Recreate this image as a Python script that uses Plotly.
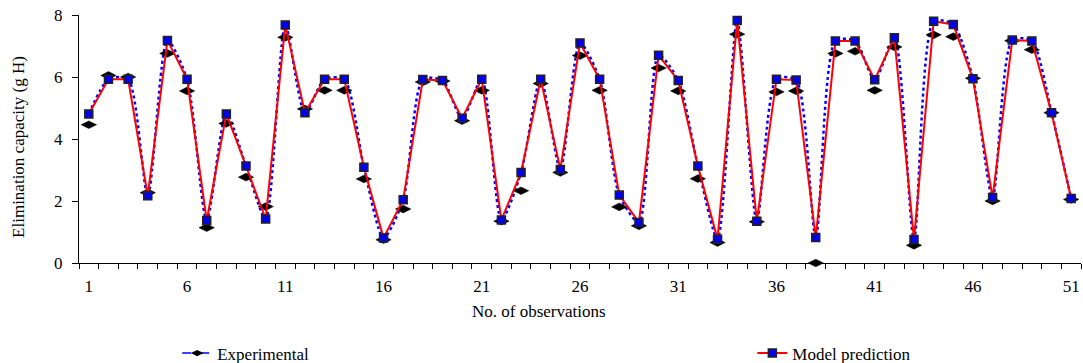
import plotly.graph_objects as go

observations = list(range(1, 52))

experimental = [4.46, 6.05, 6.00, 2.27, 6.76, 5.55, 1.14, 4.50, 2.77, 1.82,
                7.28, 4.97, 5.57, 5.57, 2.71, 0.75, 1.74, 5.84, 5.87, 4.59,
                5.57, 1.35, 2.33, 5.79, 2.92, 6.69, 5.57, 1.81, 1.20, 6.29,
                5.55, 2.72, 0.66, 7.38, 1.33, 5.52, 5.55, 0.00, 6.76, 6.83,
                5.57, 6.97, 0.57, 7.36, 7.30, 5.96, 2.00, 7.17, 6.88, 4.85,
                2.05]

model_prediction = [4.81, 5.93, 5.93, 2.17, 7.18, 5.93, 1.37, 4.81, 3.13, 1.42,
                    7.68, 4.85, 5.93, 5.93, 3.09, 0.81, 2.04, 5.92, 5.89, 4.67,
                    5.93, 1.39, 2.92, 5.93, 3.02, 7.10, 5.93, 2.19, 1.31, 6.70,
                    5.89, 3.13, 0.77, 7.82, 1.35, 5.93, 5.90, 0.82, 7.16, 7.16,
                    5.91, 7.27, 0.76, 7.80, 7.69, 5.94, 2.11, 7.19, 7.16, 4.85,
                    2.08]

x_tick_values = [1, 6, 11, 16, 21, 26, 31, 36, 41, 46, 51]
y_tick_values = [0, 2, 4, 6, 8]

FONT = "Liberation Serif, Times New Roman, serif"

fig = go.Figure()

# smoothed dotted curve (follows the fitted profile)
fig.add_trace(go.Scatter(
    x=observations, y=model_prediction, mode="lines",
    line=dict(color="#0000FF", width=2.5, dash="dot", shape="spline", smoothing=0.7),
    showlegend=False, hoverinfo="skip"))

# experimental markers
fig.add_trace(go.Scatter(
    x=observations, y=experimental, mode="markers", name="Experimental",
    marker=dict(symbol="diamond-wide", size=11, color="black",
                line=dict(color="black", width=0.5)),
    showlegend=False, cliponaxis=False))

# legend entry for experimental
fig.add_trace(go.Scatter(
    x=[None], y=[None], mode="lines+markers", name="Experimental",
    line=dict(color="#0000FF", width=1.5, dash="dash"),
    marker=dict(symbol="diamond-wide", size=9, color="black"),
    legend="legend"))

# model prediction
fig.add_trace(go.Scatter(
    x=observations, y=model_prediction, mode="lines+markers", name="Model prediction",
    line=dict(color="#FF0000", width=2),
    marker=dict(symbol="square", size=8, color="#0000EE",
                line=dict(color="#222222", width=1.5)),
    legend="legend2", cliponaxis=False))

fig.update_layout(
    width=1083, height=363,
    margin=dict(l=79, r=2, t=15, b=100, autoexpand=False),
    paper_bgcolor="white", plot_bgcolor="white",
    font=dict(family=FONT, size=16, color="black"),
    legend=dict(orientation="h", x=0.098, y=-0.365, xanchor="left", yanchor="middle",
                font=dict(family=FONT, size=17), bgcolor="rgba(0,0,0,0)"),
    legend2=dict(orientation="h", x=0.672, y=-0.365, xanchor="left", yanchor="middle",
                 font=dict(family=FONT, size=17), bgcolor="rgba(0,0,0,0)"),
    xaxis=dict(
        range=[0.5, 51.5], tickmode="array", tickvals=x_tick_values,
        ticks="", showgrid=False, zeroline=False, automargin=False,
        showline=True, linecolor="black", linewidth=1,
        ticklabelstandoff=8,
        tickfont=dict(family=FONT, size=17),
        minor=dict(tickmode="linear", tick0=0.5, dtick=1, ticks="outside",
                   ticklen=5, tickcolor="black", tickwidth=1, showgrid=False),
    ),
    yaxis=dict(
        range=[0, 8], tickmode="array", tickvals=y_tick_values,
        ticks="outside", ticklen=6, tickcolor="black", tickwidth=1,
        showgrid=False, zeroline=False, automargin=False,
        showline=True, linecolor="black", linewidth=1,
        ticklabelstandoff=6,
        tickfont=dict(family=FONT, size=17),
    ),
    annotations=[
        dict(text="No. of observations", xref="paper", yref="paper",
             x=0.459, y=-0.196, xanchor="center", yanchor="middle",
             showarrow=False, font=dict(family=FONT, size=17)),
        dict(text="Elimination capacity (g H)", xref="paper", yref="paper",
             x=-0.0604, y=0.47, xanchor="center", yanchor="middle", textangle=-90,
             showarrow=False, font=dict(family=FONT, size=17)),
    ],
)

fig.write_html(
    "out.html",
    config={"displayModeBar": False},
    post_script="document.body.style.margin='0';document.body.style.overflow='hidden';",
)
